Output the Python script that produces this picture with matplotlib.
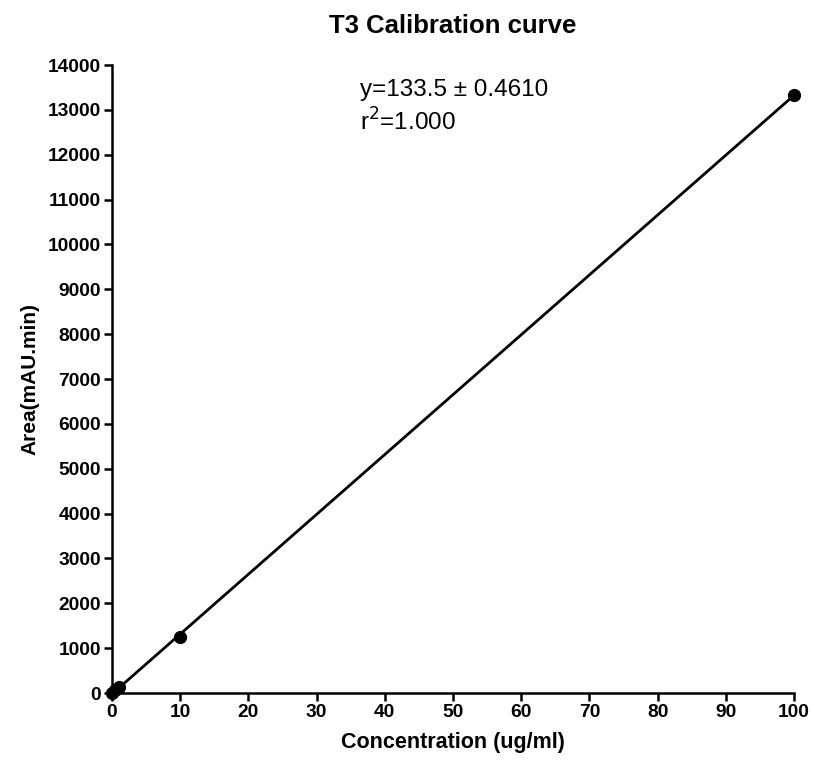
import matplotlib

matplotlib.use("Agg")
import matplotlib.pyplot as plt
import numpy as np

plt.rcParams["font.family"] = ["Liberation Sans", "DejaVu Sans"]

# standard concentrations (ug/ml) and measured peak areas (mAU.min)
conc = [0, 0.5, 1, 10, 100]
area = [0, 65, 130, 1250, 13330]

x_ticks = list(range(0, 101, 10))
y_ticks = list(range(0, 14001, 1000))

fig = plt.figure(figsize=(8.14, 7.63), dpi=100)
ax = fig.add_axes([0.1376, 0.0917, 0.8378, 0.8231])

slope, intercept = np.polyfit(conc, area, 1)
fit_x = np.array([0, 100])
ax.plot(fit_x, slope * fit_x + intercept, color="black", linewidth=2.0, zorder=2)
ax.plot(conc, area, "o", color="black", markersize=8.5, zorder=3, clip_on=False)

ax.set_xlim(0, 100)
ax.set_ylim(0, 14000)
ax.set_xticks(x_ticks)
ax.set_yticks(y_ticks)

for side in ("top", "right"):
    ax.spines[side].set_visible(False)
for side in ("left", "bottom"):
    ax.spines[side].set_linewidth(1.8)
ax.tick_params(direction="out", length=6, width=1.8, labelsize=13.8, pad=2)
for lbl in ax.get_xticklabels() + ax.get_yticklabels():
    lbl.set_fontweight("bold")

ax.set_xlabel("Concentration (ug/ml)", fontsize=15.5, fontweight="bold", labelpad=8)
ax.set_ylabel("Area(mAU.min)", fontsize=15, fontweight="bold", labelpad=6)
ax.set_title("T3 Calibration curve", fontsize=18.5, fontweight="bold", pad=23)

ax.text(36.3, 13300, "y=133.5 \u00b1 0.4610", fontsize=17.5, va="baseline")
ax.text(36.3, 12530, "r$^2$=1.000", fontsize=17.5, va="baseline")

fig.savefig("out.png", dpi=100, facecolor="white")
plt.close(fig)
